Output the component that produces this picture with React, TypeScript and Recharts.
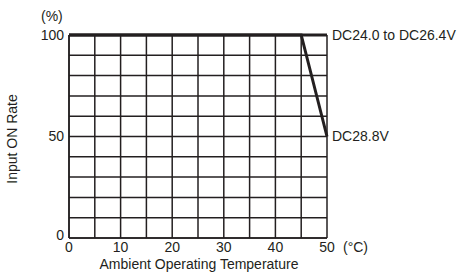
import React from 'react';
import { LineChart, Line, XAxis, YAxis, CartesianGrid } from 'recharts';

// ambient temperature (°C) and input ON rate (%) per input voltage
const temps = [0, 45, 50];
const lowVoltRate = [100, 100, 100];
const highVoltRate = [100, 100, 50];
const seriesNames = ['DC24.0 to DC26.4V', 'DC28.8V'];

const xTicks = [0, 5, 10, 15, 20, 25, 30, 35, 40, 45, 50];
const yTicks = [0, 10, 20, 30, 40, 50, 60, 70, 80, 90, 100];
const xLabelTicks = [0, 10, 20, 30, 40, 50];
const yLabelTicks = [0, 50, 100];

const data = temps.map((t, i) => ({ temp: t, low: lowVoltRate[i], high: highVoltRate[i] }));

const FONT = '"Liberation Sans", Arial, sans-serif';
const INK = '#231f20';
const FS = 14;

const XTick = (props: any) => {
  const { x, y, payload } = props;
  const v = payload.value;
  if (!xLabelTicks.includes(v)) return null;
  return (
    <g>
      <text x={x} y={y} dy="0.71em" textAnchor="middle" fontSize={FS} fill={INK} fontFamily={FONT}>
        {v}
      </text>
      {v === 50 && (
        <text x={x + 16} y={y} dy="0.71em" textAnchor="start" fontSize={FS} fill={INK} fontFamily={FONT}>
          (°C)
        </text>
      )}
    </g>
  );
};

const YTick = (props: any) => {
  const { x, y, payload } = props;
  const v = payload.value;
  if (!yLabelTicks.includes(v)) return null;
  return (
    <text x={x} y={v === 0 ? y - 3 : y} dy="0.355em" textAnchor="end" fontSize={FS} fill={INK} fontFamily={FONT}>
      {v}
    </text>
  );
};

const endLabel = (name: string) => (props: any) => {
  const { x, y, index } = props;
  if (index !== data.length - 1) return null;
  return (
    <text key={name} x={x + 5} y={y} dy="0.355em" fontSize={FS} fill={INK} fontFamily={FONT}>
      {name}
    </text>
  );
};

export default function App() {
  return (
    <div style={{ position: 'absolute', left: 0, top: 0, width: 462, height: 272, fontFamily: FONT, color: INK }}>
      <LineChart width={462} height={272} data={data} margin={{ top: 35, right: 135, bottom: 0, left: 0 }}>
        <CartesianGrid stroke={INK} strokeWidth={1.5} horizontalValues={yTicks} verticalValues={xTicks} />
        <XAxis
          dataKey="temp"
          type="number"
          domain={[0, 50]}
          ticks={xTicks}
          interval={0}
          height={34}
          tickLine={false}
          tickSize={0}
          tickMargin={4}
          axisLine={{ stroke: INK, strokeWidth: 1.5 }}
          tick={<XTick />}
        />
        <YAxis
          type="number"
          domain={[0, 100]}
          ticks={yTicks}
          interval={0}
          width={69}
          tickLine={false}
          tickSize={0}
          tickMargin={5}
          axisLine={{ stroke: INK, strokeWidth: 1.5 }}
          tick={<YTick />}
        />
        <Line
          dataKey="low"
          type="linear"
          stroke={INK}
          strokeWidth={3}
          dot={false}
          isAnimationActive={false}
          label={endLabel(seriesNames[0])}
        />
        <Line
          dataKey="high"
          type="linear"
          stroke={INK}
          strokeWidth={3}
          dot={false}
          isAnimationActive={false}
          label={endLabel(seriesNames[1])}
        />
      </LineChart>
      <div style={{ position: 'absolute', left: 41, top: 8, fontSize: FS }}>(%)</div>
      <div
        style={{
          position: 'absolute',
          left: 12,
          top: 139,
          fontSize: FS,
          whiteSpace: 'nowrap',
          transform: 'translate(-50%, -50%) rotate(-90deg)',
        }}
      >
        Input ON Rate
      </div>
      <div
        style={{
          position: 'absolute',
          left: 199,
          top: 256,
          fontSize: FS,
          whiteSpace: 'nowrap',
          transform: 'translateX(-50%)',
        }}
      >
        Ambient Operating Temperature
      </div>
    </div>
  );
}
